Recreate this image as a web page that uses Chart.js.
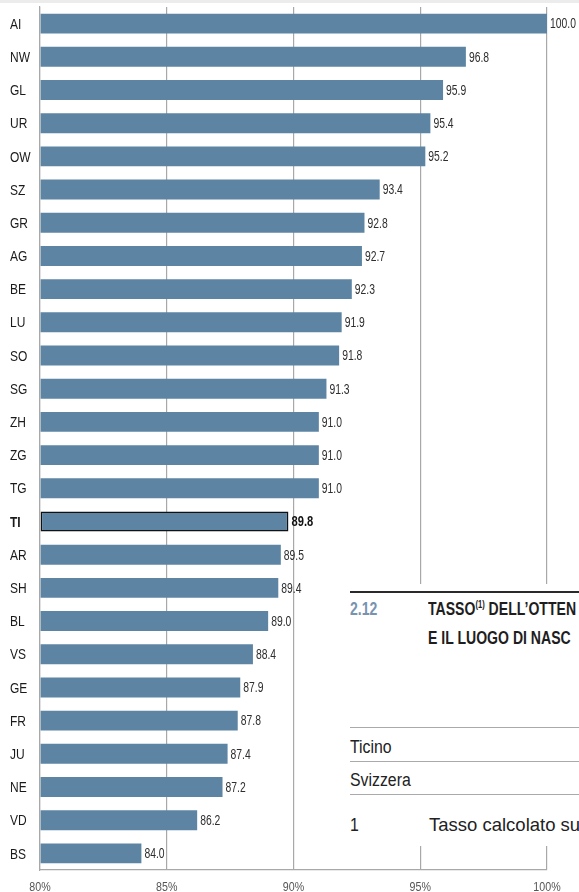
<!DOCTYPE html>
<html>
<head>
<meta charset="utf-8">
<script src="https://cdn.jsdelivr.net/npm/chart.js@4.4.1/dist/chart.umd.min.js"></script>
<style>
  html, body { margin: 0; padding: 0; background: #fff; }
  body { width: 579px; height: 892px; position: relative; overflow: hidden; }
  #topstrip { position: absolute; left: 0; top: 0; width: 579px; height: 3px; background: #ececec; }
  #wrap { position: absolute; left: 0; top: 0; width: 579px; height: 892px; }
  #overlay { position: absolute; left: 348px; top: 584px; width: 231px; height: 262px; background: #fff; overflow: hidden; font-family: "Liberation Sans", Arial, sans-serif; color: #222; }
  .rule { position: absolute; left: 2px; right: 0; }
  .t { position: absolute; white-space: nowrap; line-height: 18px; transform-origin: 0 0; }
  .b { font-size: 18.5px; font-weight: bold; transform: scaleX(0.76); color: #1e1e1e; }
  .r { font-size: 18px; transform: scaleX(0.88); }
</style>
</head>
<body>
<div id="wrap"><canvas id="c" width="579" height="892"></canvas></div>
<div id="topstrip"></div>
<div id="overlay">
  <div class="rule" style="top:7px;height:2px;background:#2a2a2a;"></div>
  <div class="t b" style="left:2px;top:16px;color:#7893b0;transform:scaleX(0.76);">2.12</div>
  <div class="t b" style="left:80px;top:16px;">TASSO<span style="font-size:10px;position:relative;top:-7px;">(1)</span> DELL’OTTEN</div>
  <div class="t b" style="left:80px;top:45px;">E IL LUOGO DI NASC</div>
  <div class="rule" style="top:143px;height:1px;background:#aaa;"></div>
  <div class="t r" style="left:2px;top:154px;">Ticino</div>
  <div class="rule" style="top:177px;height:1px;background:#aaa;"></div>
  <div class="t r" style="left:2px;top:187px;">Svizzera</div>
  <div class="rule" style="top:210px;height:1px;background:#aaa;"></div>
  <div class="t r" style="left:2px;top:232px;">1</div>
  <div class="t" style="left:81px;top:232px;font-size:18.5px;">Tasso calcolato su</div>
</div>
<script>
const categories = ["AI","NW","GL","UR","OW","SZ","GR","AG","BE","LU","SO","SG","ZH","ZG","TG","TI","AR","SH","BL","VS","GE","FR","JU","NE","VD","BS"];
const values = [100.0,96.8,95.9,95.4,95.2,93.4,92.8,92.7,92.3,91.9,91.8,91.3,91.0,91.0,91.0,89.8,89.5,89.4,89.0,88.4,87.9,87.8,87.4,87.2,86.2,84.0];
const highlight = "TI";
const xTicks = [80,85,90,95,100];

const FONT = '"Liberation Sans", Arial, sans-serif';
const BAR = '#5d85a3';

function narrowText(ctx, text, x, y, sx, align) {
  ctx.save();
  const w = ctx.measureText(text).width * sx;
  let x0 = x;
  if (align === 'center') x0 = x - w / 2;
  else if (align === 'right') x0 = x - w;
  ctx.translate(x0, y);
  ctx.scale(sx, 1);
  ctx.textAlign = 'left';
  ctx.fillText(text, 0, 0);
  ctx.restore();
}

const labelsPlugin = {
  id: 'labelsPlugin',
  afterDraw(chart) {
    const ctx = chart.ctx;
    const meta = chart.getDatasetMeta(0);
    const yScale = chart.scales.y;
    const xScale = chart.scales.x;
    ctx.save();
    ctx.textBaseline = 'middle';
    meta.data.forEach((bar, i) => {
      const isH = categories[i] === highlight;
      ctx.font = (isH ? 'bold 14px ' : '14px ') + FONT;
      ctx.fillStyle = isH ? '#111' : '#2e2e2e';
      narrowText(ctx, values[i].toFixed(1), bar.x + 3, bar.y + 1, isH ? 0.8 : 0.74, 'left');
    });
    categories.forEach((c, i) => {
      const isH = c === highlight;
      ctx.font = (isH ? 'bold 15px ' : '15px ') + FONT;
      ctx.fillStyle = '#1a1a1a';
      narrowText(ctx, c, 10, yScale.getPixelForValue(i) + 1, 0.8, 'left');
    });
    ctx.textBaseline = 'alphabetic';
    ctx.font = '13px ' + FONT;
    ctx.fillStyle = '#555';
    xTicks.forEach(v => {
      narrowText(ctx, v + '%', xScale.getPixelForValue(v), 891, 0.82, 'center');
    });
    ctx.restore();
  }
};

new Chart(document.getElementById('c'), {
  type: 'bar',
  data: {
    labels: categories,
    datasets: [{
      data: values,
      backgroundColor: BAR,
      borderColor: categories.map(c => c === highlight ? '#111' : BAR),
      borderWidth: categories.map(c => c === highlight ? 1.5 : 0),
      borderSkipped: false,
      barPercentage: 0.6,
      categoryPercentage: 1.0,
      base: 80
    }]
  },
  options: {
    indexAxis: 'y',
    responsive: false,
    animation: false,
    devicePixelRatio: 1,
    layout: { padding: { left: 10, right: 32, top: 7, bottom: 0 } },
    plugins: { legend: { display: false }, tooltip: { enabled: false } },
    scales: {
      x: {
        min: 80, max: 100,
        afterBuildTicks: s => { s.ticks = xTicks.map(v => ({ value: v })); },
        afterFit: s => { s.height = 22; },
        ticks: { display: false },
        grid: { color: '#a8a8a8', lineWidth: 1.2, drawTicks: false },
        border: { display: true, color: '#a8a8a8', width: 1.2 }
      },
      y: {
        afterFit: s => { s.width = 30; },
        ticks: { display: false },
        grid: { display: false, drawTicks: false },
        border: { display: true, color: '#a8a8a8', width: 1.2 }
      }
    }
  },
  plugins: [labelsPlugin]
});
</script>
</body>
</html>
